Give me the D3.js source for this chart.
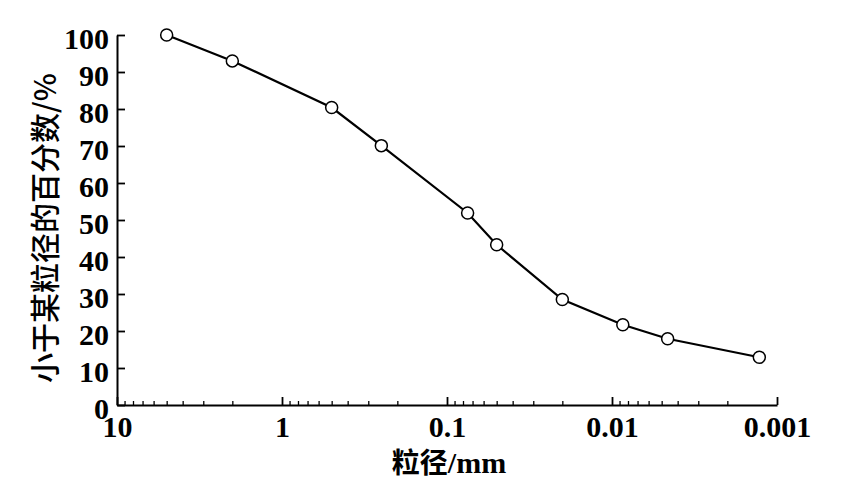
<!DOCTYPE html>
<html>
<head>
<meta charset="utf-8">
<script src="https://cdn.jsdelivr.net/npm/d3@7"></script>
<style>
  html, body { margin: 0; padding: 0; background: #fff; }
  svg { display: block; }
</style>
</head>
<body>
<svg id="chart" width="847" height="490"></svg>
<script>
// Data
const diameters = [5, 2, 0.5, 0.25, 0.075, 0.05, 0.02, 0.0086, 0.0046, 0.00128];
const percents  = [100, 93, 80.4, 70.1, 51.9, 43.3, 28.5, 21.7, 17.9, 12.9];
const xMajorTicks = [10, 1, 0.1, 0.01, 0.001];
const xMajorLabels = ["10", "1", "0.1", "0.01", "0.001"];
const yTicks = [0, 10, 20, 30, 40, 50, 60, 70, 80, 90, 100];
const xTitle = "粒径/mm";
const yTitle = "小于某粒径的百分数/%";

const svg = d3.select("#chart");
const x = d3.scaleLog().domain([10, 0.001]).range([117, 777]);
const y = d3.scaleLinear().domain([0, 100]).range([405, 35]);

const serif = "'Liberation Serif', 'Times New Roman', serif";
const cjk = "'Noto Sans CJK SC', sans-serif";

// minor ticks
const minor = [];
for (let e = 0; e >= -3; e--) {
  for (let k = 2; k <= 9; k++) minor.push(k * Math.pow(10, e));
}

const gMinor = svg.append("g").attr("transform", "translate(0,405)")
  .call(d3.axisBottom(x).tickValues(minor).tickSize(-4).tickSizeOuter(0).tickFormat(""));
gMinor.select(".domain").remove();
gMinor.selectAll("line").attr("stroke", "#000").attr("stroke-width", 1.3);

const gX = svg.append("g").attr("transform", "translate(0,405)")
  .call(d3.axisBottom(x).tickValues(xMajorTicks).tickSize(-8).tickSizeOuter(0)
    .tickFormat((d, i) => xMajorLabels[i]).tickPadding(11));
gX.select(".domain").attr("stroke", "#000").attr("stroke-width", 2);
gX.selectAll("line").attr("stroke", "#000").attr("stroke-width", 1.8);
gX.selectAll("text").attr("fill", "#000").style("font-family", serif)
  .style("font-size", "30px").style("font-weight", "bold");

const gY = svg.append("g").attr("transform", "translate(117,0)")
  .call(d3.axisLeft(y).tickValues(yTicks).tickSize(-8).tickSizeOuter(0).tickPadding(8));
gY.select(".domain").attr("stroke", "#000").attr("stroke-width", 2);
gY.selectAll("line").attr("stroke", "#000").attr("stroke-width", 1.8);
gY.selectAll("text").attr("fill", "#000").style("font-family", serif)
  .style("font-size", "30px").style("font-weight", "bold").attr("dy", "0.45em");

// line
const pts = diameters.map((d, i) => [d, percents[i]]);
svg.append("path").datum(pts)
  .attr("fill", "none").attr("stroke", "#000").attr("stroke-width", 2.2)
  .attr("d", d3.line().x(d => x(d[0])).y(d => y(d[1])));

svg.selectAll("circle.pt").data(pts).enter().append("circle")
  .attr("class", "pt")
  .attr("cx", d => x(d[0])).attr("cy", d => y(d[1])).attr("r", 6)
  .attr("fill", "#fff").attr("stroke", "#000").attr("stroke-width", 1.5);

// titles
svg.append("text").attr("x", 449).attr("y", 473).attr("text-anchor", "middle")
  .style("font-family", cjk).style("font-size", "28px").style("font-weight", "bold")
  .attr("fill", "#000")
  .selectAll("tspan").data([["粒径", cjk], ["/mm", serif]]).enter().append("tspan")
  .style("font-family", d => d[1]).style("font-size", d => d[1] === serif ? "30px" : "28px")
  .text(d => d[0]);

svg.append("text").attr("transform", "translate(56,228) rotate(-90)")
  .attr("text-anchor", "middle")
  .style("font-family", cjk).style("font-size", "30px").style("font-weight", "500")
  .attr("fill", "#000").text(yTitle);
</script>
</body>
</html>
